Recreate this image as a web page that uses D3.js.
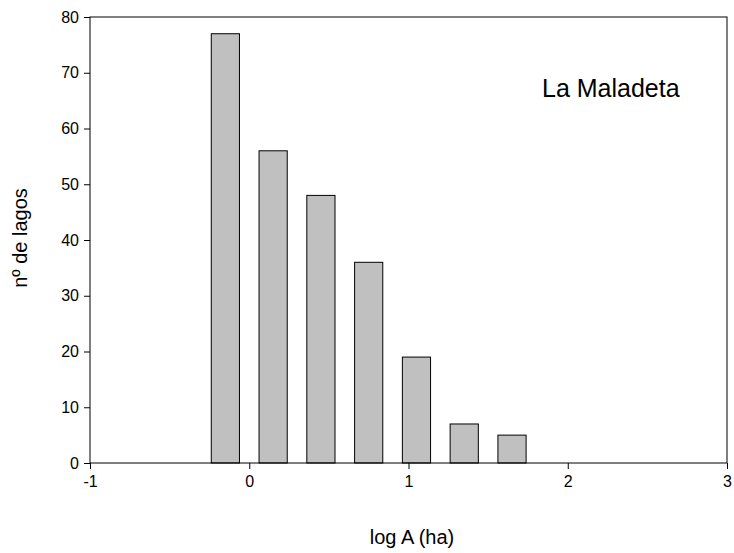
<!DOCTYPE html>
<html>
<head>
<meta charset="utf-8">
<script src="https://cdn.jsdelivr.net/npm/d3@7"></script>
<style>
  html, body { margin: 0; padding: 0; background: #fff; }
  svg { display: block; font-family: "Liberation Sans", Arial, sans-serif; }
</style>
</head>
<body>
<svg id="chart" width="734" height="553"></svg>
<script>
// Lake-size histogram: bin centres on log10 of area (ha) and lake counts
const binCenters = [-0.15, 0.15, 0.45, 0.75, 1.05, 1.35, 1.65];
const lakeCounts = [77, 56, 48, 36, 19, 7, 5];
const xTicks = [-1, 0, 1, 2, 3];
const yTicks = [0, 10, 20, 30, 40, 50, 60, 70, 80];
const siteName = "La Maladeta";

const margin = { left: 90, top: 17, right: 7, bottom: 90 };
const W = 734, H = 553;
const iw = W - margin.left - margin.right;
const ih = H - margin.top - margin.bottom;
const binWidth = 0.3;
const barFraction = 0.59;

const svg = d3.select("#chart");
const g = svg.append("g").attr("transform", `translate(${margin.left},${margin.top})`);

const x = d3.scaleLinear().domain([-1, 3]).range([0, iw]);
const y = d3.scaleLinear().domain([0, 80]).range([ih, 0]);

// bars
const bw = x(binWidth * barFraction) - x(0);
g.selectAll("rect.bar")
  .data(binCenters.map((c, i) => ({ c, v: lakeCounts[i] })))
  .join("rect")
  .attr("class", "bar")
  .attr("x", d => x(d.c) - bw / 2)
  .attr("y", d => y(d.v))
  .attr("width", bw)
  .attr("height", d => y(0) - y(d.v))
  .attr("fill", "#c0c0c0")
  .attr("stroke", "#000")
  .attr("stroke-width", 1);

// frame
g.append("rect")
  .attr("x", 0).attr("y", 0)
  .attr("width", iw).attr("height", ih)
  .attr("fill", "none")
  .attr("stroke", "#000")
  .attr("stroke-width", 1);

// axes (plain hyphen for negatives)
const fmt = d => String(d);
const xAxis = g.append("g")
  .attr("transform", `translate(0,${ih})`)
  .call(d3.axisBottom(x).tickValues(xTicks).tickFormat(fmt).tickSize(6).tickPadding(7));
const yAxis = g.append("g")
  .call(d3.axisLeft(y).tickValues(yTicks).tickFormat(fmt).tickSize(6).tickPadding(5));
[xAxis, yAxis].forEach(a => {
  a.select(".domain").remove();
  a.selectAll("text").attr("font-size", 16).attr("fill", "#000")
    .attr("font-family", "'Liberation Sans', Arial, sans-serif");
  a.selectAll("line").attr("stroke", "#000");
});

// axis titles
svg.append("text")
  .attr("x", 412).attr("y", 544)
  .attr("text-anchor", "middle")
  .attr("font-size", 20)
  .text("log A (ha)");
svg.append("text")
  .attr("transform", `translate(27,238) rotate(-90)`)
  .attr("text-anchor", "middle")
  .attr("font-size", 20)
  .text("nº de lagos");

// site annotation
svg.append("text")
  .attr("x", 542).attr("y", 97)
  .attr("font-size", 25)
  .text(siteName);
</script>
</body>
</html>
